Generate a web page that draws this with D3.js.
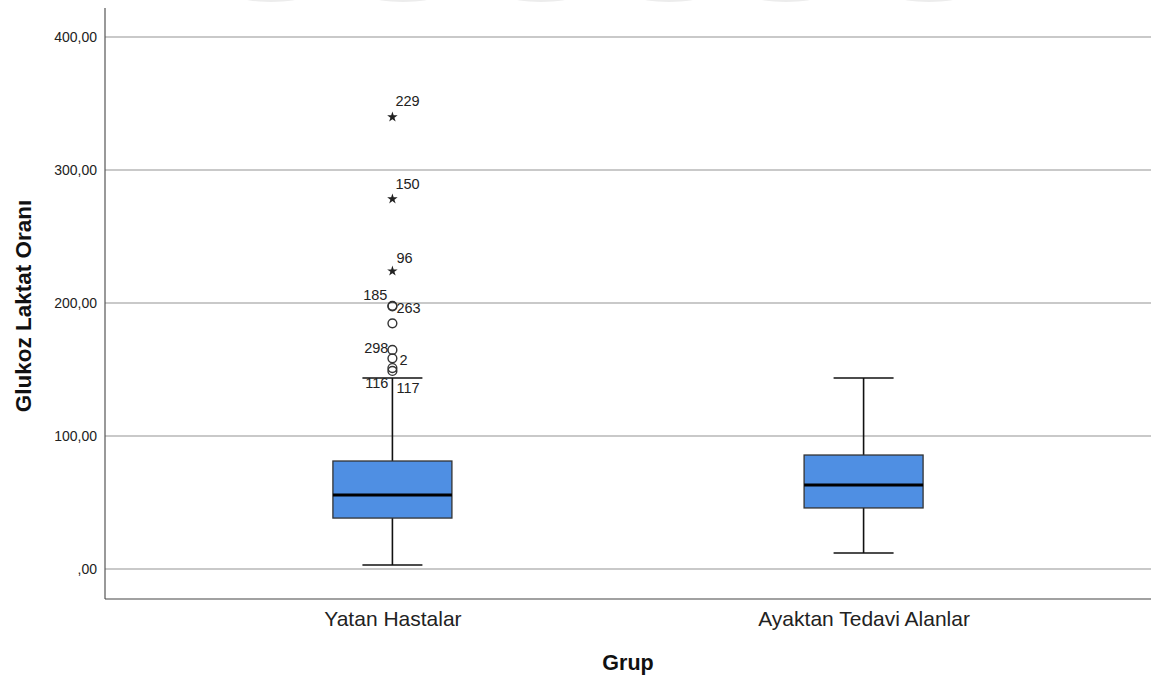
<!DOCTYPE html>
<html>
<head>
<meta charset="utf-8">
<script src="https://cdn.jsdelivr.net/npm/d3@7"></script>
<style>
  html, body { margin: 0; padding: 0; background: #fff; }
  svg { display: block; font-family: "Liberation Sans", Arial, sans-serif; }
</style>
</head>
<body>
<svg id="chart" width="1151" height="679"></svg>
<script>
// Group names
const categories = ["Yatan Hastalar", "Ayaktan Tedavi Alanlar"];
// Five-number summaries per group
const whiskerLow  = [3.0, 12.0];
const q1          = [38.3, 45.9];
const median      = [55.6, 63.2];
const q3          = [81.2, 85.7];
const whiskerHigh = [143.6, 143.6];

// Outlying cases (first group only): case id, value, kind ("" = unlabeled)
const outlierIds    = ["229", "150", "96", "185", "263", "", "298", "2", "116", "117"];
const outlierValues = [339.8, 278.2, 224.0, 197.9, 197.5, 184.7, 164.7, 158.4, 151.1, 148.9];
const outlierKinds  = ["extreme", "extreme", "extreme", "mild", "mild", "mild", "mild", "mild", "mild", "mild"];

const yTicks = [0, 100, 200, 300, 400];

const svg = d3.select("#chart");
const plotLeft = 105, plotRight = 1151, plotBottom = 599;

const y = d3.scaleLinear().domain([0, 400]).range([569, 37]);
const x = d3.scalePoint().domain(categories).range([plotLeft, plotRight]).padding(0.61);

// faint shapes along the top edge
const topBlobs = [271, 403, 541, 669, 786, 929];
svg.append("g").selectAll("ellipse").data(topBlobs).join("ellipse")
  .attr("cx", d => d).attr("cy", -3).attr("rx", 30).attr("ry", 5)
  .attr("fill", "#ececec");

// gridlines
svg.append("g").selectAll("line").data(yTicks).join("line")
  .attr("x1", plotLeft).attr("x2", plotRight)
  .attr("y1", d => y(d)).attr("y2", d => y(d))
  .attr("stroke", "#c9c9c9").attr("stroke-width", 2);

// y axis
const fmt = d => (d === 0 ? "" : d3.format("d")(d)) + ",00";
const yAxis = d3.axisLeft(y).tickValues(yTicks).tickFormat(fmt).tickSize(0).tickPadding(8);
const gy = svg.append("g").attr("transform", `translate(${plotLeft},0)`).call(yAxis);
gy.select(".domain").remove();
gy.selectAll("text").attr("font-size", 14).attr("fill", "#222")
  .attr("font-family", "'Liberation Sans', Arial, sans-serif");

// axis frame lines
svg.append("line").attr("x1", plotLeft).attr("x2", plotLeft).attr("y1", 8).attr("y2", plotBottom)
  .attr("stroke", "#555").attr("stroke-width", 1.2);
svg.append("line").attr("x1", plotLeft).attr("x2", plotRight).attr("y1", plotBottom).attr("y2", plotBottom)
  .attr("stroke", "#444").attr("stroke-width", 1.2);

// x axis labels
const xAxis = d3.axisBottom(x).tickSize(0).tickPadding(12);
const gx = svg.append("g").attr("transform", `translate(0,${plotBottom})`).call(xAxis);
gx.select(".domain").remove();
gx.selectAll("text").attr("font-size", 21).attr("fill", "#222")
  .attr("font-family", "'Liberation Sans', Arial, sans-serif");

// axis titles
svg.append("text").attr("x", (plotLeft + plotRight) / 2).attr("y", 670)
  .attr("text-anchor", "middle").attr("font-size", 21.5).attr("font-weight", "bold")
  .attr("fill", "#111").text("Grup");
svg.append("text").attr("transform", "translate(31,306) rotate(-90)")
  .attr("text-anchor", "middle").attr("font-size", 22.5).attr("font-weight", "bold")
  .attr("fill", "#111").text("Glukoz Laktat Oranı");

// boxes
const boxW = 119, capW = 60;
const data = categories.map((c, i) => ({
  c, lo: whiskerLow[i], q1: q1[i], med: median[i], q3: q3[i], hi: whiskerHigh[i]
}));
const g = svg.append("g").selectAll("g").data(data).join("g");
g.append("line").attr("x1", d => x(d.c)).attr("x2", d => x(d.c))
  .attr("y1", d => y(d.lo)).attr("y2", d => y(d.hi))
  .attr("stroke", "#111").attr("stroke-width", 1.6);
g.append("line").attr("x1", d => x(d.c) - capW / 2).attr("x2", d => x(d.c) + capW / 2)
  .attr("y1", d => y(d.lo)).attr("y2", d => y(d.lo))
  .attr("stroke", "#111").attr("stroke-width", 1.6);
g.append("line").attr("x1", d => x(d.c) - capW / 2).attr("x2", d => x(d.c) + capW / 2)
  .attr("y1", d => y(d.hi)).attr("y2", d => y(d.hi))
  .attr("stroke", "#111").attr("stroke-width", 1.6);
g.append("rect").attr("x", d => x(d.c) - boxW / 2).attr("width", boxW)
  .attr("y", d => y(d.q3)).attr("height", d => y(d.q1) - y(d.q3))
  .attr("fill", "#4f8fe3").attr("stroke", "#333").attr("stroke-width", 1.3);
g.append("line").attr("x1", d => x(d.c) - boxW / 2).attr("x2", d => x(d.c) + boxW / 2)
  .attr("y1", d => y(d.med)).attr("y2", d => y(d.med))
  .attr("stroke", "#000").attr("stroke-width", 3);

// outliers
const ox = x(categories[0]);
const outliers = outlierIds.map((id, i) => ({ id, v: outlierValues[i], kind: outlierKinds[i] }));
const og = svg.append("g");
const star = d3.symbol().type(d3.symbolStar).size(34);
og.selectAll("path").data(outliers.filter(d => d.kind === "extreme")).join("path")
  .attr("d", star).attr("transform", d => `translate(${ox},${y(d.v)})`)
  .attr("fill", "#222");
og.selectAll("circle").data(outliers.filter(d => d.kind === "mild")).join("circle")
  .attr("cx", ox).attr("cy", d => y(d.v)).attr("r", 4.4)
  .attr("fill", "none").attr("stroke", "#333").attr("stroke-width", 1.4);

// outlier case labels: offset relative to the point
const labelOffsets = {
  "229": [3, -11, "start"], "150": [3, -10, "start"], "96": [4, -8, "start"],
  "185": [-5, -6, "end"], "263": [4, 7, "start"], "298": [-4, 3, "end"],
  "2": [7, 7, "start"], "116": [-4, 20, "end"], "117": [4, 22, "start"]
};
og.selectAll("text").data(outliers.filter(d => d.id !== "")).join("text")
  .attr("x", d => ox + labelOffsets[d.id][0])
  .attr("y", d => y(d.v) + labelOffsets[d.id][1])
  .attr("text-anchor", d => labelOffsets[d.id][2])
  .attr("font-size", 14.5).attr("fill", "#222").text(d => d.id);
</script>
</body>
</html>
